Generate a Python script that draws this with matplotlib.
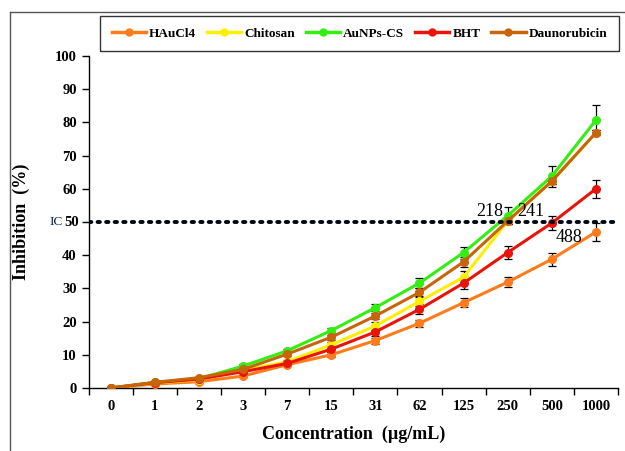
import matplotlib.pyplot as plt
import numpy as np
from matplotlib.lines import Line2D

plt.rcParams['font.family'] = ['Liberation Serif', 'DejaVu Serif']

conc_labels = ['0', '1', '2', '3', '7', '15', '31', '62', '125', '250', '500', '1000']
names = ['HAuCl4', 'Chitosan', 'AuNPs-CS', 'BHT', 'Daunorubicin']
colors = ['#ff7b1c', '#ffee00', '#33ee11', '#e8140a', '#c8640a']

hau = [0, 1.2, 1.9, 3.6, 7.0, 10.0, 14.3, 19.5, 25.7, 31.9, 38.8, 47.0]
chitosan = [0, 1.5, 2.5, 5.3, 7.9, 13.0, 18.7, 26.1, 33.4, 50.3, 62.3, 76.9]
aunps = [0, 1.7, 2.8, 6.6, 11.2, 17.3, 24.2, 31.6, 40.8, 51.9, 63.8, 80.7]
bht = [0, 1.6, 2.7, 4.9, 7.4, 11.7, 16.9, 23.7, 31.6, 40.8, 49.7, 60.0]
dauno = [0, 1.7, 3.1, 5.6, 10.2, 15.3, 21.7, 28.8, 38.0, 50.3, 62.3, 76.9]

hau_err = [0, 0.3, 0.3, 0.4, 0.5, 0.7, 0.9, 1.1, 1.3, 1.6, 2.0, 2.7]
chitosan_err = [0, 0.3, 0.3, 0.5, 0.6, 0.9, 1.2, 1.5, 1.8, 1.0, 1.0, 0.8]
aunps_err = [0, 0.3, 0.3, 0.5, 0.6, 0.8, 1.0, 1.5, 1.8, 2.5, 3.2, 4.4]
bht_err = [0, 0.3, 0.3, 0.5, 0.6, 0.8, 1.2, 1.5, 1.8, 2.0, 2.0, 2.8]
dauno_err = [0, 0.3, 0.3, 0.5, 0.6, 0.8, 1.0, 1.3, 1.6, 1.0, 1.0, 0.8]

y_ticks = [0, 10, 20, 30, 40, 50, 60, 70, 80, 90, 100]

series = [hau, chitosan, aunps, bht, dauno]
errors = [hau_err, chitosan_err, aunps_err, bht_err, dauno_err]

fig = plt.figure(figsize=(6.25, 4.51), dpi=100)
ax = fig.add_axes([0.1418, 0.1397, 0.8470, 0.7361])

x = np.arange(len(conc_labels))
for i, (vals, err, c) in enumerate(zip(series, errors, colors)):
    ax.errorbar(x, vals, yerr=err, fmt='none', ecolor='black', elinewidth=0.9,
                capsize=3, capthick=0.9, zorder=2)
    ax.plot(x, vals, color=c, lw=2.2, marker='o', ms=5.5, zorder=3 + i)

# IC50 reference line
ax.axhline(50, color='#000818', lw=2.8, ls=(0, (0.6, 1.6)),
           dash_capstyle='round', zorder=10)
ax.text(8.6, 50.6, '218', fontsize=13, ha='center', va='bottom', zorder=11)
ax.text(9.52, 50.6, '241', fontsize=13, ha='center', va='bottom', zorder=11)
ax.text(10.38, 48.0, '488', fontsize=13, ha='center', va='top', zorder=11)

ax.set_xlim(-0.5, 11.5)
ax.set_ylim(0, 100)
ax.set_yticks(y_ticks)
ax.set_yticklabels(['' if v == 50 else str(v) for v in y_ticks])
ax.set_xticks(np.arange(-0.5, 12, 1))
ax.set_xticklabels([])
ax.set_xticks(x, minor=True)
ax.set_xticklabels(conc_labels, minor=True)
ax.tick_params(axis='x', which='major', length=5, direction='out', width=1)
ax.tick_params(axis='x', which='minor', length=0, pad=9, labelsize=10.5)
ax.tick_params(axis='y', length=5, width=1, labelsize=10.5)
for lab in ax.get_xticklabels(minor=True) + ax.get_yticklabels():
    lab.set_fontweight('bold')

# "IC50" label in place of the 50 tick label
ytr = ax.get_yaxis_transform()
ax.annotate('50', xy=(0, 50), xycoords=ytr, xytext=(-7.2, 0),
            textcoords='offset points', ha='right', va='center',
            fontsize=10.5, fontweight='bold')
ax.annotate('IC', xy=(0, 50), xycoords=ytr, xytext=(-18.5, 0),
            textcoords='offset points', ha='right', va='center',
            fontsize=9.5, color='#10205a')

for s in ['top', 'right']:
    ax.spines[s].set_visible(False)
for s in ['left', 'bottom']:
    ax.spines[s].set_linewidth(1)

ax.set_ylabel('Inhibition  (%)', fontsize=13, fontweight='bold', labelpad=18)
ax.set_xlabel('Concentration  (µg/mL)', fontsize=13, fontweight='bold', labelpad=9)

handles = [Line2D([], [], color=c, lw=2.5, marker='o', ms=5) for c in colors]
leg = fig.legend(handles, names, loc='center', ncol=5,
                 bbox_to_anchor=(359.5 / 625, 1 - 33.5 / 451),
                 prop={'weight': 'bold', 'size': 9.5}, frameon=True,
                 fancybox=False, edgecolor='black', handlelength=2.6,
                 columnspacing=0.8, handletextpad=0.25, borderpad=0.9,
                 borderaxespad=0)
leg.get_frame().set_linewidth(1)

# outer frame
fig.add_artist(Line2D([9.5 / 625, 9.5 / 625], [0, 1 - 12 / 451], color='#555555', lw=1))
fig.add_artist(Line2D([9.5 / 625, 1], [1 - 12 / 451, 1 - 12 / 451], color='#555555', lw=1))

plt.savefig('out.png', dpi=100)
